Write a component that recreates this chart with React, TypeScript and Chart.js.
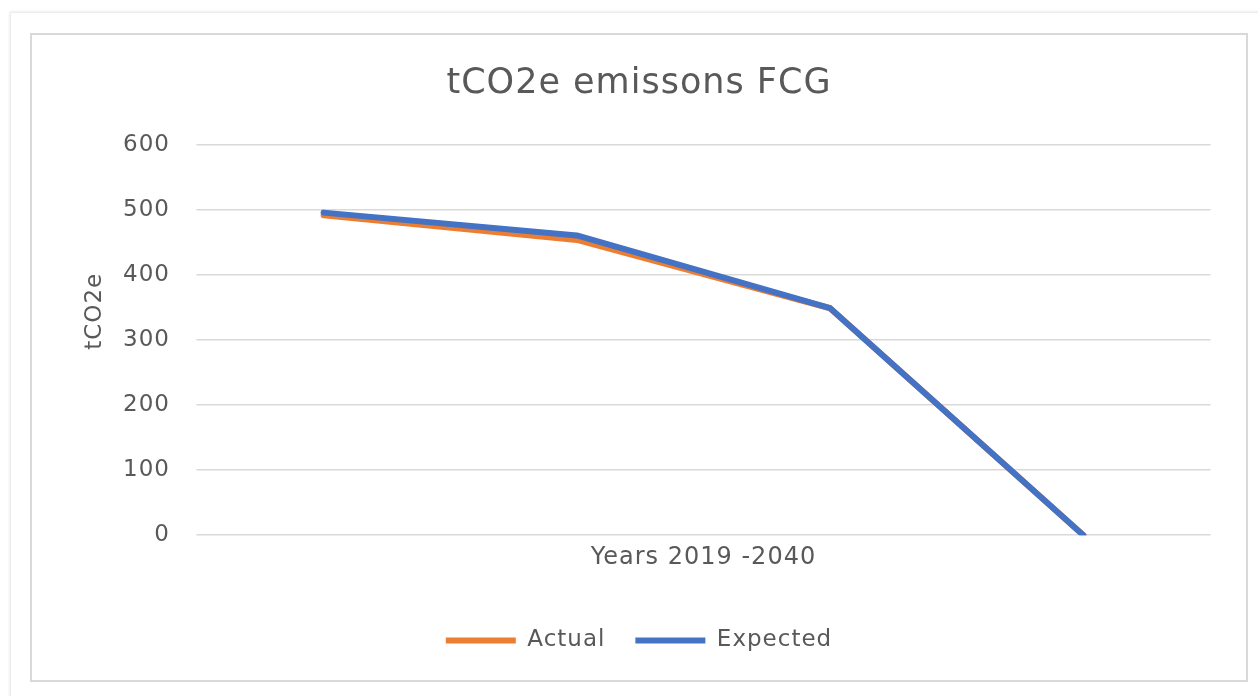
import React, { useEffect, useRef } from "react";
import { Chart, registerables } from "chart.js";

Chart.register(...registerables);

const categories = ["2019", "2026", "2033", "2040"];
const actualValues = [492, 454, 349, 0];
const expectedValues = [496, 461, 349, 0];
const yMin = 0;
const yMax = 600;
const yStep = 100;
const chartTitle = "tCO2e emissons FCG";
const yAxisTitle = "tCO2e";
const xAxisTitle = "Years 2019 -2040";
const seriesNames = ["Actual", "Expected"];
const seriesColors = ["#ED7D31", "#4472C4"];

const FONT = "'DejaVu Sans', sans-serif";
const TEXT = "#595959";
const SPACING = "1px";

const spacingPlugin = {
  id: "letterSpacingPlugin",
  beforeUpdate(chart: any) {
    chart.ctx.letterSpacing = SPACING;
  },
  beforeDraw(chart: any) {
    chart.ctx.letterSpacing = SPACING;
    chart.ctx.lineCap = "round";
  },
  afterDraw(chart: any) {
    const { ctx, chartArea } = chart;
    ctx.save();
    ctx.letterSpacing = SPACING;
    ctx.font = `23px ${FONT}`;
    ctx.fillStyle = TEXT;
    ctx.translate(63, chartArea.top + (chartArea.bottom - chartArea.top) * 0.426);
    ctx.rotate(-Math.PI / 2);
    ctx.textAlign = "center";
    ctx.textBaseline = "middle";
    ctx.fillText(yAxisTitle, 0, 0);
    ctx.restore();
  },
};

export default function App() {
  const canvasRef = useRef<HTMLCanvasElement | null>(null);

  useEffect(() => {
    if (!canvasRef.current) return;
    const chart = new Chart(canvasRef.current, {
      type: "line",
      data: {
        labels: categories,
        datasets: [
          {
            label: seriesNames[0],
            data: actualValues,
            borderColor: seriesColors[0],
            backgroundColor: seriesColors[0],
            borderWidth: 6,
            pointRadius: 0,
            tension: 0,
            borderCapStyle: "round",
            borderJoinStyle: "round",
            order: 1,
          },
          {
            label: seriesNames[1],
            data: expectedValues,
            borderColor: seriesColors[1],
            backgroundColor: seriesColors[1],
            borderWidth: 6,
            pointRadius: 0,
            tension: 0,
            borderCapStyle: "round",
            borderJoinStyle: "round",
            order: 0,
          },
        ],
      },
      options: {
        animation: false,
        responsive: false,
        maintainAspectRatio: false,
        layout: { padding: { left: 36, right: 36, top: 0, bottom: 18 } },
        plugins: {
          title: {
            display: true,
            text: chartTitle,
            color: TEXT,
            font: { family: FONT, size: 35, weight: "normal" },
            padding: { top: 28, bottom: 40 },
          },
          legend: {
            display: true,
            position: "bottom",
            labels: {
              color: TEXT,
              font: { family: FONT, size: 23 },
              usePointStyle: true,
              pointStyle: "line",
              pointStyleWidth: 70,
              boxHeight: 23,
              padding: 30,
              sort: (a: any, b: any) => a.datasetIndex - b.datasetIndex,
            },
          },
          tooltip: { enabled: false },
        },
        scales: {
          x: {
            type: "category",
            offset: true,
            grid: { display: false },
            border: { display: false },
            ticks: { display: false },
            title: {
              display: true,
              text: xAxisTitle,
              color: TEXT,
              font: { family: FONT, size: 24 },
              padding: { top: 0, bottom: 27 },
            },
          },
          y: {
            min: yMin,
            max: yMax,
            border: { display: false },
            grid: { color: "#d9d9d9", lineWidth: 1.5, drawTicks: false },
            ticks: {
              stepSize: yStep,
              color: TEXT,
              font: { family: FONT, size: 23 },
              padding: 27,
            },
            afterFit: (scale: any) => {
              scale.width = 129;
            },
          },
        },
      },
      plugins: [spacingPlugin],
    });
    return () => chart.destroy();
  }, []);

  return (
    <div
      style={{
        position: "absolute",
        left: 0,
        top: 0,
        width: 1258,
        height: 696,
        overflow: "hidden",
        background: "#fff",
      }}
    >
      <div
        style={{
          position: "absolute",
          left: 10,
          top: 12,
          width: 1270,
          height: 700,
          border: "1px solid #ececec",
          boxShadow: "0 0 3px rgba(0,0,0,0.12)",
          background: "#fff",
        }}
      />
      <div
        style={{
          position: "absolute",
          left: 30,
          top: 33,
          width: 1214,
          height: 645,
          border: "2px solid #d9d9d9",
          background: "#fff",
        }}
      >
        <canvas ref={canvasRef} width={1214} height={645} style={{ display: "block" }} />
      </div>
    </div>
  );
}
